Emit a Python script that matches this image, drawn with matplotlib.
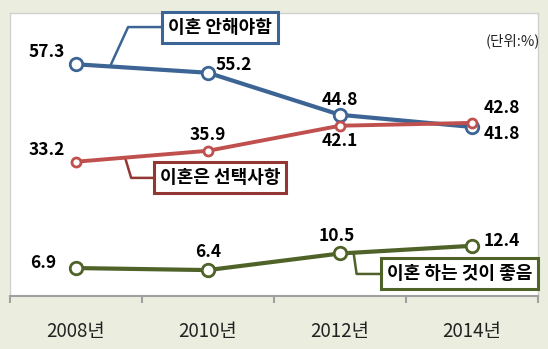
import numpy as np
import matplotlib.pyplot as plt

plt.rcParams['font.family'] = ['Noto Sans CJK KR', 'DejaVu Sans']

# data
years = ['2008년', '2010년', '2012년', '2014년']
must_not = [57.3, 55.2, 44.8, 41.8]     # 이혼 안해야함
choice = [33.2, 35.9, 42.1, 42.8]       # 이혼은 선택사항
better = [6.9, 6.4, 10.5, 12.4]         # 이혼 하는 것이 좋음

blue = '#3C6494'
red = '#C0504D'
red_dark = '#943634'
green = '#4F6228'

fig = plt.figure(figsize=(5.48, 3.49), dpi=100)
fig.patch.set_facecolor('#EBEEDF')
ax = fig.add_axes([0.0182, 0.152, 0.9635, 0.811])
ax.set_facecolor('white')

x = np.arange(len(years))
ax.set_xlim(-0.5, 3.5)
ax.set_ylim(0, 70)

# lines
ax.plot(x, must_not, color=blue, lw=3, marker='o', ms=9, mfc='white', mec=blue, mew=2, zorder=4)
ax.plot(x, choice, color=red, lw=2.8, marker='o', ms=6.5, mfc='white', mec=red, mew=2, zorder=5)
ax.plot(x, better, color=green, lw=3, marker='o', ms=9, mfc='white', mec=green, mew=2, zorder=4)

# data labels (offset in pixels)
lab = dict(textcoords='offset pixels', ha='center', va='center',
           fontsize=12.5, fontweight='bold', color='black')
offs_blue = [(-29, 12), (26, 8), (0, 15), (30, -7)]
offs_red = [(-29, 12), (0, 16), (0, -15), (30, 15)]
offs_green = [(-33, 5), (0, 18), (-3, 17), (30, 5)]
for vals, offs in [(must_not, offs_blue), (choice, offs_red), (better, offs_green)]:
    for i, (v, o) in enumerate(zip(vals, offs)):
        ax.annotate(f'{v}', (x[i], v), xytext=o, **lab)

# callouts
def callout(series, x0, elbow, box_x, text, lcolor, bcolor):
    y0 = np.interp(x0, x, series)
    ax.plot([x0, elbow[0], box_x], [y0, elbow[1], elbow[1]], color=lcolor, lw=1.8,
            zorder=3, solid_capstyle='butt')
    ax.text(box_x, elbow[1], text, ha='center', va='center', fontsize=13,
            fontweight='bold', zorder=6,
            bbox=dict(boxstyle='square,pad=0.33', fc='white', ec=bcolor, lw=2.2))

callout(must_not, 0.258, (0.395, 66.5), 1.093, '이혼 안해야함', blue, blue)
callout(choice, 0.372, (0.418, 29.2), 1.093, '이혼은 선택사항', red_dark, red_dark)
callout(better, 2.103, (2.126, 5.44), 2.908, '이혼 하는 것이 좋음', green, green)

ax.text(1.003, 0.9, '(단위:%)', transform=ax.transAxes, ha='right', va='center',
        fontsize=10.5, color='#222222')

# axes styling
ax.set_yticks([])
ax.set_xticks(x)
ax.set_xticklabels(years, fontsize=13.5, color='#222222')
ax.set_xticks([-0.5, 0.5, 1.5, 2.5, 3.5], minor=True)
ax.tick_params(axis='x', which='major', length=0, pad=18)
ax.tick_params(axis='x', which='minor', length=5, width=1.5, color='#A0A0A0', direction='out')
for s in ['top', 'right', 'left']:
    ax.spines[s].set_color('#D0D0D0')
    ax.spines[s].set_linewidth(1)
ax.spines['bottom'].set_color('#A0A0A0')
ax.spines['bottom'].set_linewidth(1.5)

fig.savefig('out.png', dpi=100, facecolor=fig.get_facecolor())
